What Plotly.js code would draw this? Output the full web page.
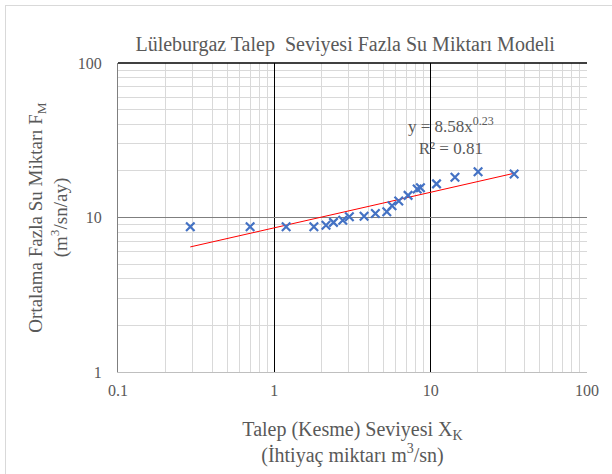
<!DOCTYPE html>
<html>
<head>
<meta charset="utf-8">
<script src="https://cdn.plot.ly/plotly-3.0.1.min.js"></script>
<style>
  html, body { margin: 0; padding: 0; background: #ffffff; }
  #chart { width: 612px; height: 474px; position: relative; }
  #chart text { font-family: "Liberation Serif", serif !important; }
  #frame { position: absolute; left: 5px; top: 5px; width: 620px; height: 480px;
           border-left: 1px solid #d9d9d9; border-top: 1px solid #d9d9d9; pointer-events: none; }
</style>
</head>
<body>
<div id="chart"></div>
<div id="frame"></div>
<script>
// Observed points: demand (cut-off) level X_K vs mean surplus water F_M
const demandLevel = [0.29, 0.70, 1.19, 1.79, 2.14, 2.39, 2.74, 3.02, 3.75, 4.43, 5.24, 5.66, 6.25, 7.17, 8.2, 8.6, 10.9, 14.3, 20.1, 34.2];
const surplusWater = [8.7, 8.7, 8.7, 8.7, 8.9, 9.3, 9.6, 10.1, 10.2, 10.6, 10.9, 11.9, 12.8, 13.9, 15.3, 15.6, 16.5, 18.2, 19.8, 19.1];

// Power trendline end points (y = 8.58 x^0.23)
const trendX = [0.29, 34.2];
const trendY = [6.45, 19.33];

const xTickVals = [0.1, 1, 10, 100];
const xTickText = ['0.1', '1', '10', '100'];
const yTickVals = [1, 10, 100];
const yTickText = ['1', '10', '100'];

const titleText = 'Lüleburgaz Talep  Seviyesi Fazla Su Miktarı Modeli';
const xTitleText = 'Talep (Kesme) Seviyesi X<sub>K</sub><br>(İhtiyaç miktarı m<sup>3</sup>/sn)';
const yTitleText = 'Ortalama Fazla Su Miktarı F<sub>M</sub><br>(m<sup>3</sup>/sn/ay)';
const eqText = 'y = 8.58x<sup>0.23</sup><br>R² = 0.81';

const FONT = '"Liberation Serif", serif';
const GREY = '#595959';

const traces = [
  {
    x: trendX, y: trendY, type: 'scatter', mode: 'lines',
    line: { color: '#ff0000', width: 1 }, hoverinfo: 'skip', showlegend: false
  },
  {
    x: demandLevel, y: surplusWater, type: 'scatter', mode: 'markers',
    marker: { symbol: 'x-thin-open', size: 8.5, color: '#4472c4', line: { color: '#4472c4', width: 2.2 } },
    showlegend: false
  }
];

const layout = {
  width: 612, height: 474,
  margin: { l: 118, r: 25, t: 63, b: 102 },
  paper_bgcolor: '#ffffff', plot_bgcolor: '#ffffff',
  font: { family: FONT, color: GREY, size: 16 },
  title: {
    text: titleText, font: { family: FONT, size: 20, color: GREY },
    x: 0.564, xref: 'container', xanchor: 'center',
    y: 0.907, yref: 'container', yanchor: 'middle'
  },
  xaxis: {
    type: 'log', range: [-1, 2],
    tickvals: xTickVals, ticktext: xTickText,
    showgrid: true, gridcolor: '#000000', gridwidth: 1.5,
    minor: { dtick: 'D1', showgrid: true, gridcolor: '#d9d9d9', gridwidth: 1, ticks: '' },
    showline: true, linecolor: '#bfbfbf', linewidth: 1,
    ticks: '', tickfont: { family: FONT, size: 16, color: GREY },
    ticklabelstandoff: 4,
    zeroline: false, automargin: false,
    title: { text: xTitleText, font: { family: FONT, size: 20, color: GREY }, standoff: 23 }
  },
  yaxis: {
    type: 'log', range: [0, 2],
    tickvals: yTickVals, ticktext: yTickText,
    showgrid: true, gridcolor: '#7f7f7f', gridwidth: 1.5,
    minor: { dtick: 'D1', showgrid: true, gridcolor: '#d9d9d9', gridwidth: 1, ticks: '' },
    showline: true, linecolor: '#7f7f7f', linewidth: 1,
    ticks: '', tickfont: { family: FONT, size: 16, color: GREY },
    ticklabelstandoff: 12,
    zeroline: false, automargin: false,
    title: { text: yTitleText, font: { family: FONT, size: 19, color: GREY }, standoff: 5 }
  },
  shapes: [
    { type: 'line', xref: 'paper', yref: 'paper', x0: 0, x1: 1, y0: 1, y1: 1,
      line: { color: '#000000', width: 1.5 }, layer: 'above' }
  ],
  annotations: [
    { text: eqText, xref: 'paper', yref: 'paper', x: 0.71, y: 0.765,
      xanchor: 'center', yanchor: 'middle', showarrow: false,
      font: { family: FONT, size: 17, color: GREY } }
  ]
};

Plotly.newPlot('chart', traces, layout, { displayModeBar: false, staticPlot: true });
</script>
</body>
</html>
